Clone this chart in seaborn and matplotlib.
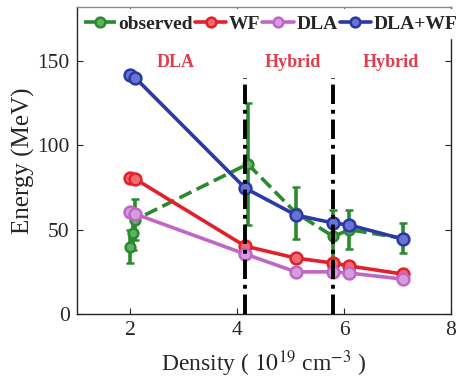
import numpy as np
import pandas as pd
import matplotlib
matplotlib.use("Agg")
import matplotlib.pyplot as plt
from matplotlib.lines import Line2D
import seaborn as sns

# Measured energies and model predictions versus plasma density
obs_density = [2.0, 2.05, 2.1, 4.2, 5.1, 5.8, 6.1, 7.1]
obs_energy = [40, 48, 56, 89, 60, 46, 50, 45]
obs_err = [10, 10, 12, 36, 15.5, 16, 11.5, 9]

model_density = [2.0, 2.1, 4.15, 5.1, 5.8, 6.1, 7.1]
wf_energy = [80.5, 80, 40.3, 33.2, 30.2, 28.5, 23.7]
dla_energy = [60.5, 59.3, 35.6, 25, 25, 24.3, 20.7]
dlawf_energy = [142, 140, 74.7, 58.7, 54, 52.8, 44.5]

regime_names = ["DLA", "Hybrid", "Hybrid"]
regime_x = [2.85, 5.05, 6.88]
boundaries = [4.15, 5.8]

sns.set_style("ticks")
plt.rcParams["font.family"] = ["Liberation Serif", "DejaVu Serif"]
plt.rcParams["mathtext.fontset"] = "stix"

green = "#2a8a2e"
red = "#e3202a"
purple = "#bf66c8"
blue = "#2a38a8"

fig = plt.figure(figsize=(4.62, 3.82), dpi=100)
ax = fig.add_axes([0.166, 0.178, 0.81, 0.803])

ax.errorbar(obs_density, obs_energy, yerr=obs_err, color=green, ls="--", lw=2.6,
            marker="o", ms=7, mfc="#5fb060", mec=green, mew=1.8,
            elinewidth=2.6, capsize=3, capthick=2.6, zorder=2)

models = pd.DataFrame({
    "density": model_density * 3,
    "energy": wf_energy + dla_energy + dlawf_energy,
    "model": ["WF"] * len(model_density) + ["DLA"] * len(model_density)
             + ["DLA+WF"] * len(model_density),
})
palette = {"WF": red, "DLA": purple, "DLA+WF": blue}
faces = {"WF": "#f06a70", "DLA": "#d69ddc", "DLA+WF": "#6a74d0"}
for name in ["WF", "DLA", "DLA+WF"]:
    sub = models[models["model"] == name]
    sns.lineplot(data=sub, x="density", y="energy", ax=ax, color=palette[name],
                 lw=2.6, marker="o", markersize=8.5, markerfacecolor=faces[name],
                 markeredgecolor=palette[name], markeredgewidth=1.8,
                 sort=False, zorder=3, legend=False)

for bx in boundaries:
    ax.plot([bx, bx], [0, 140], color="black", lw=2.8, zorder=4,
            dashes=(5, 1.5, 1, 1.5))

for name, rx in zip(regime_names, regime_x):
    ax.text(rx, 149, name, color="#df3e4e", fontsize=13, fontweight="bold",
            ha="center", va="center")

ax.set_xlim(1, 8)
ax.set_ylim(0, 182)
ax.set_xticks([2, 4, 6, 8])
ax.set_yticks([0, 50, 100, 150])
ax.tick_params(direction="in", labelsize=15.5, length=4, top=True, right=True,
               pad=5)
for side in ["top", "right", "left", "bottom"]:
    ax.spines[side].set_visible(True)
    ax.spines[side].set_linewidth(1.0)
ax.spines["top"].set_color("#888888")

ax.set_xlabel(r"Density ( $10^{19}$ cm$^{-3}$ )", fontsize=17, labelpad=6)
ax.set_ylabel("Energy (MeV)", fontsize=18, labelpad=2)

handles = [
    Line2D([], [], color=green, ls="--", lw=2.6, marker="o", ms=7,
           mfc="#5fb060", mec=green, mew=1.8),
    Line2D([], [], color=red, lw=2.6, marker="o", ms=7,
           mfc=faces["WF"], mec=red, mew=1.8),
    Line2D([], [], color=purple, lw=2.6, marker="o", ms=7,
           mfc=faces["DLA"], mec=purple, mew=1.8),
    Line2D([], [], color=blue, lw=2.6, marker="o", ms=7,
           mfc=faces["DLA+WF"], mec=blue, mew=1.8),
]
labels = ["observed", "WF", "DLA", "DLA+WF"]
leg = ax.legend(handles, labels, loc="upper left", bbox_to_anchor=(0.0, 1.0),
                ncol=4, frameon=True, framealpha=1, edgecolor="white",
                prop={"weight": "bold", "size": 14}, handlelength=1.6,
                handletextpad=0.15, columnspacing=0.1, borderpad=0.3,
                borderaxespad=0.1)

fig.savefig("out.png", dpi=100)
